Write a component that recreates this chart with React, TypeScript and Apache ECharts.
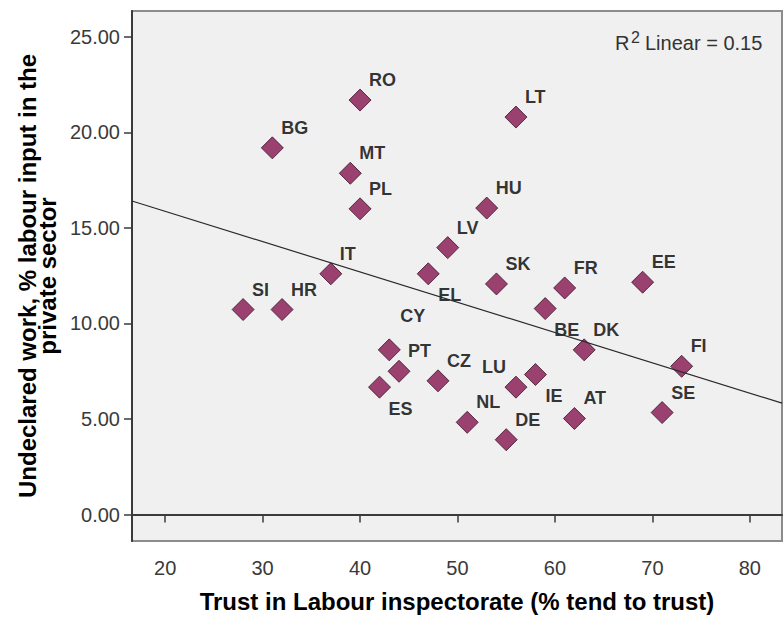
import React, { useEffect, useRef } from "react";
import * as echarts from "echarts";

// ---- Data ----
const countries = ["BG", "RO", "LT", "MT", "PL", "HU", "LV", "IT", "EL", "SK", "FR", "EE", "SI", "HR", "BE", "CY", "PT", "ES", "CZ", "LU", "IE", "NL", "DE", "AT", "DK", "FI", "SE"];
const trust = [31, 40, 56, 39, 40, 53, 49, 37, 47, 54, 61, 69, 28, 32, 59, 43, 44, 42, 48, 56, 58, 51, 55, 62, 63, 73, 71];
const undeclared = [19.19, 21.69, 20.8, 17.86, 16.0, 16.04, 13.97, 12.6, 12.6, 12.07, 11.86, 12.16, 10.73, 10.73, 10.78, 8.62, 7.5, 6.67, 7.0, 6.67, 7.33, 4.83, 3.92, 5.03, 8.62, 7.76, 5.34];
const xTicks = [20, 30, 40, 50, 60, 70, 80];
const yTicks = [0, 5, 10, 15, 20, 25];
const fitX = [16.6, 83.3];
const fitY = [16.41, 5.83];
const r2Value = "0.15";

// label placement (style, not data)
const defaultPlacement = { offset: [9, -20], align: "left" };
const placements: Record<string, { offset: number[]; align: string }> = {
  EL: { offset: [10, 21], align: "left" },
  BE: { offset: [9, 21], align: "left" },
  IE: { offset: [10, 21], align: "left" },
  ES: { offset: [9, 22], align: "left" },
  LU: { offset: [-10, -20], align: "right" },
  CY: { offset: [11, -34], align: "left" },
};

const FONT = "'Liberation Sans', Arial, Helvetica, sans-serif";

export default function App() {
  const ref = useRef<HTMLDivElement>(null);

  useEffect(() => {
    if (!ref.current) return;
    const chart = echarts.init(ref.current, undefined, { renderer: "svg" });

    const scatterData = countries.map((c, i) => {
      const p = placements[c] || defaultPlacement;
      return {
        value: [trust[i], undeclared[i]],
        name: c,
        label: {
          show: true,
          formatter: c,
          position: "inside",
          align: p.align,
          verticalAlign: "middle",
          offset: p.offset,
        },
      };
    });

    const axisColor = "#3a3a3a";

    chart.setOption({
      animation: false,
      backgroundColor: "#ffffff",
      grid: {
        left: 132,
        right: 2,
        top: 11,
        bottom: 71,
        show: true,
        backgroundColor: "#f0f0f0",
        borderColor: "#8c8c8c",
        borderWidth: 2,
      },
      xAxis: {
        type: "value",
        min: fitX[0],
        max: fitX[1],
        name: "Trust in Labour inspectorate (% tend to trust)",
        nameLocation: "middle",
        nameGap: 48,
        nameTextStyle: {
          fontFamily: FONT,
          fontSize: 24,
          fontWeight: "bold",
          color: "#000",
          lineHeight: 24,
        },
        axisLine: { show: true, lineStyle: { color: axisColor, width: 2 } },
        axisTick: {
          show: true,
          length: 8,
          customValues: xTicks,
          lineStyle: { color: axisColor, width: 1.5 },
        },
        axisLabel: {
          customValues: xTicks,
          margin: 17,
          fontFamily: FONT,
          fontSize: 20,
          color: "#3a3a3a",
          formatter: (v: number) => String(v),
        },
        splitLine: { show: false },
      },
      yAxis: {
        type: "value",
        min: -1.38,
        max: 26.35,
        name: "Undeclared work, % labour input in the\nprivate sector",
        nameLocation: "middle",
        nameGap: 72,
        nameTextStyle: {
          fontFamily: FONT,
          fontSize: 24,
          fontWeight: "bold",
          color: "#000",
          lineHeight: 20,
          align: "center",
        },
        axisLine: { show: true, lineStyle: { color: axisColor, width: 2 } },
        axisTick: {
          show: true,
          length: 8,
          customValues: yTicks,
          lineStyle: { color: axisColor, width: 1.5 },
        },
        axisLabel: {
          customValues: yTicks,
          margin: 12,
          fontFamily: FONT,
          fontSize: 20,
          color: "#3a3a3a",
          formatter: (v: number) => v.toFixed(2),
        },
        splitLine: { show: false },
      },
      series: [
        {
          type: "scatter",
          symbol: "diamond",
          symbolSize: 22,
          z: 2,
          itemStyle: { color: "#84154f", borderColor: "#3b1328", borderWidth: 1 },
          label: {
            fontFamily: FONT,
            fontSize: 18,
            fontWeight: "bold",
            color: "#000",
          },
          emphasis: { disabled: true },
          data: scatterData,
        },
        {
          type: "line",
          z: 3,
          symbol: "none",
          silent: true,
          lineStyle: { color: "#2a2a2a", width: 1.2 },
          data: fitX.map((x, i) => [x, fitY[i]]),
        },
      ],
      graphic: [
        {
          type: "text",
          left: 615,
          top: 33,
          z: 10,
          style: {
            text: "R",
            fontFamily: FONT,
            fontSize: 20,
            fill: "#333",
          },
        },
        {
          type: "text",
          left: 631,
          top: 29,
          z: 10,
          style: {
            text: "2",
            fontFamily: FONT,
            fontSize: 16,
            fill: "#333",
          },
        },
        {
          type: "text",
          left: 645,
          top: 33,
          z: 10,
          style: {
            text: "Linear = " + r2Value,
            fontFamily: FONT,
            fontSize: 20,
            fill: "#333",
          },
        },
      ],
    });

    return () => {
      chart.dispose();
    };
  }, []);

  return (
    <div
      ref={ref}
      style={{ position: "absolute", left: 0, top: 0, width: 784, height: 618, background: "#fff" }}
    />
  );
}
